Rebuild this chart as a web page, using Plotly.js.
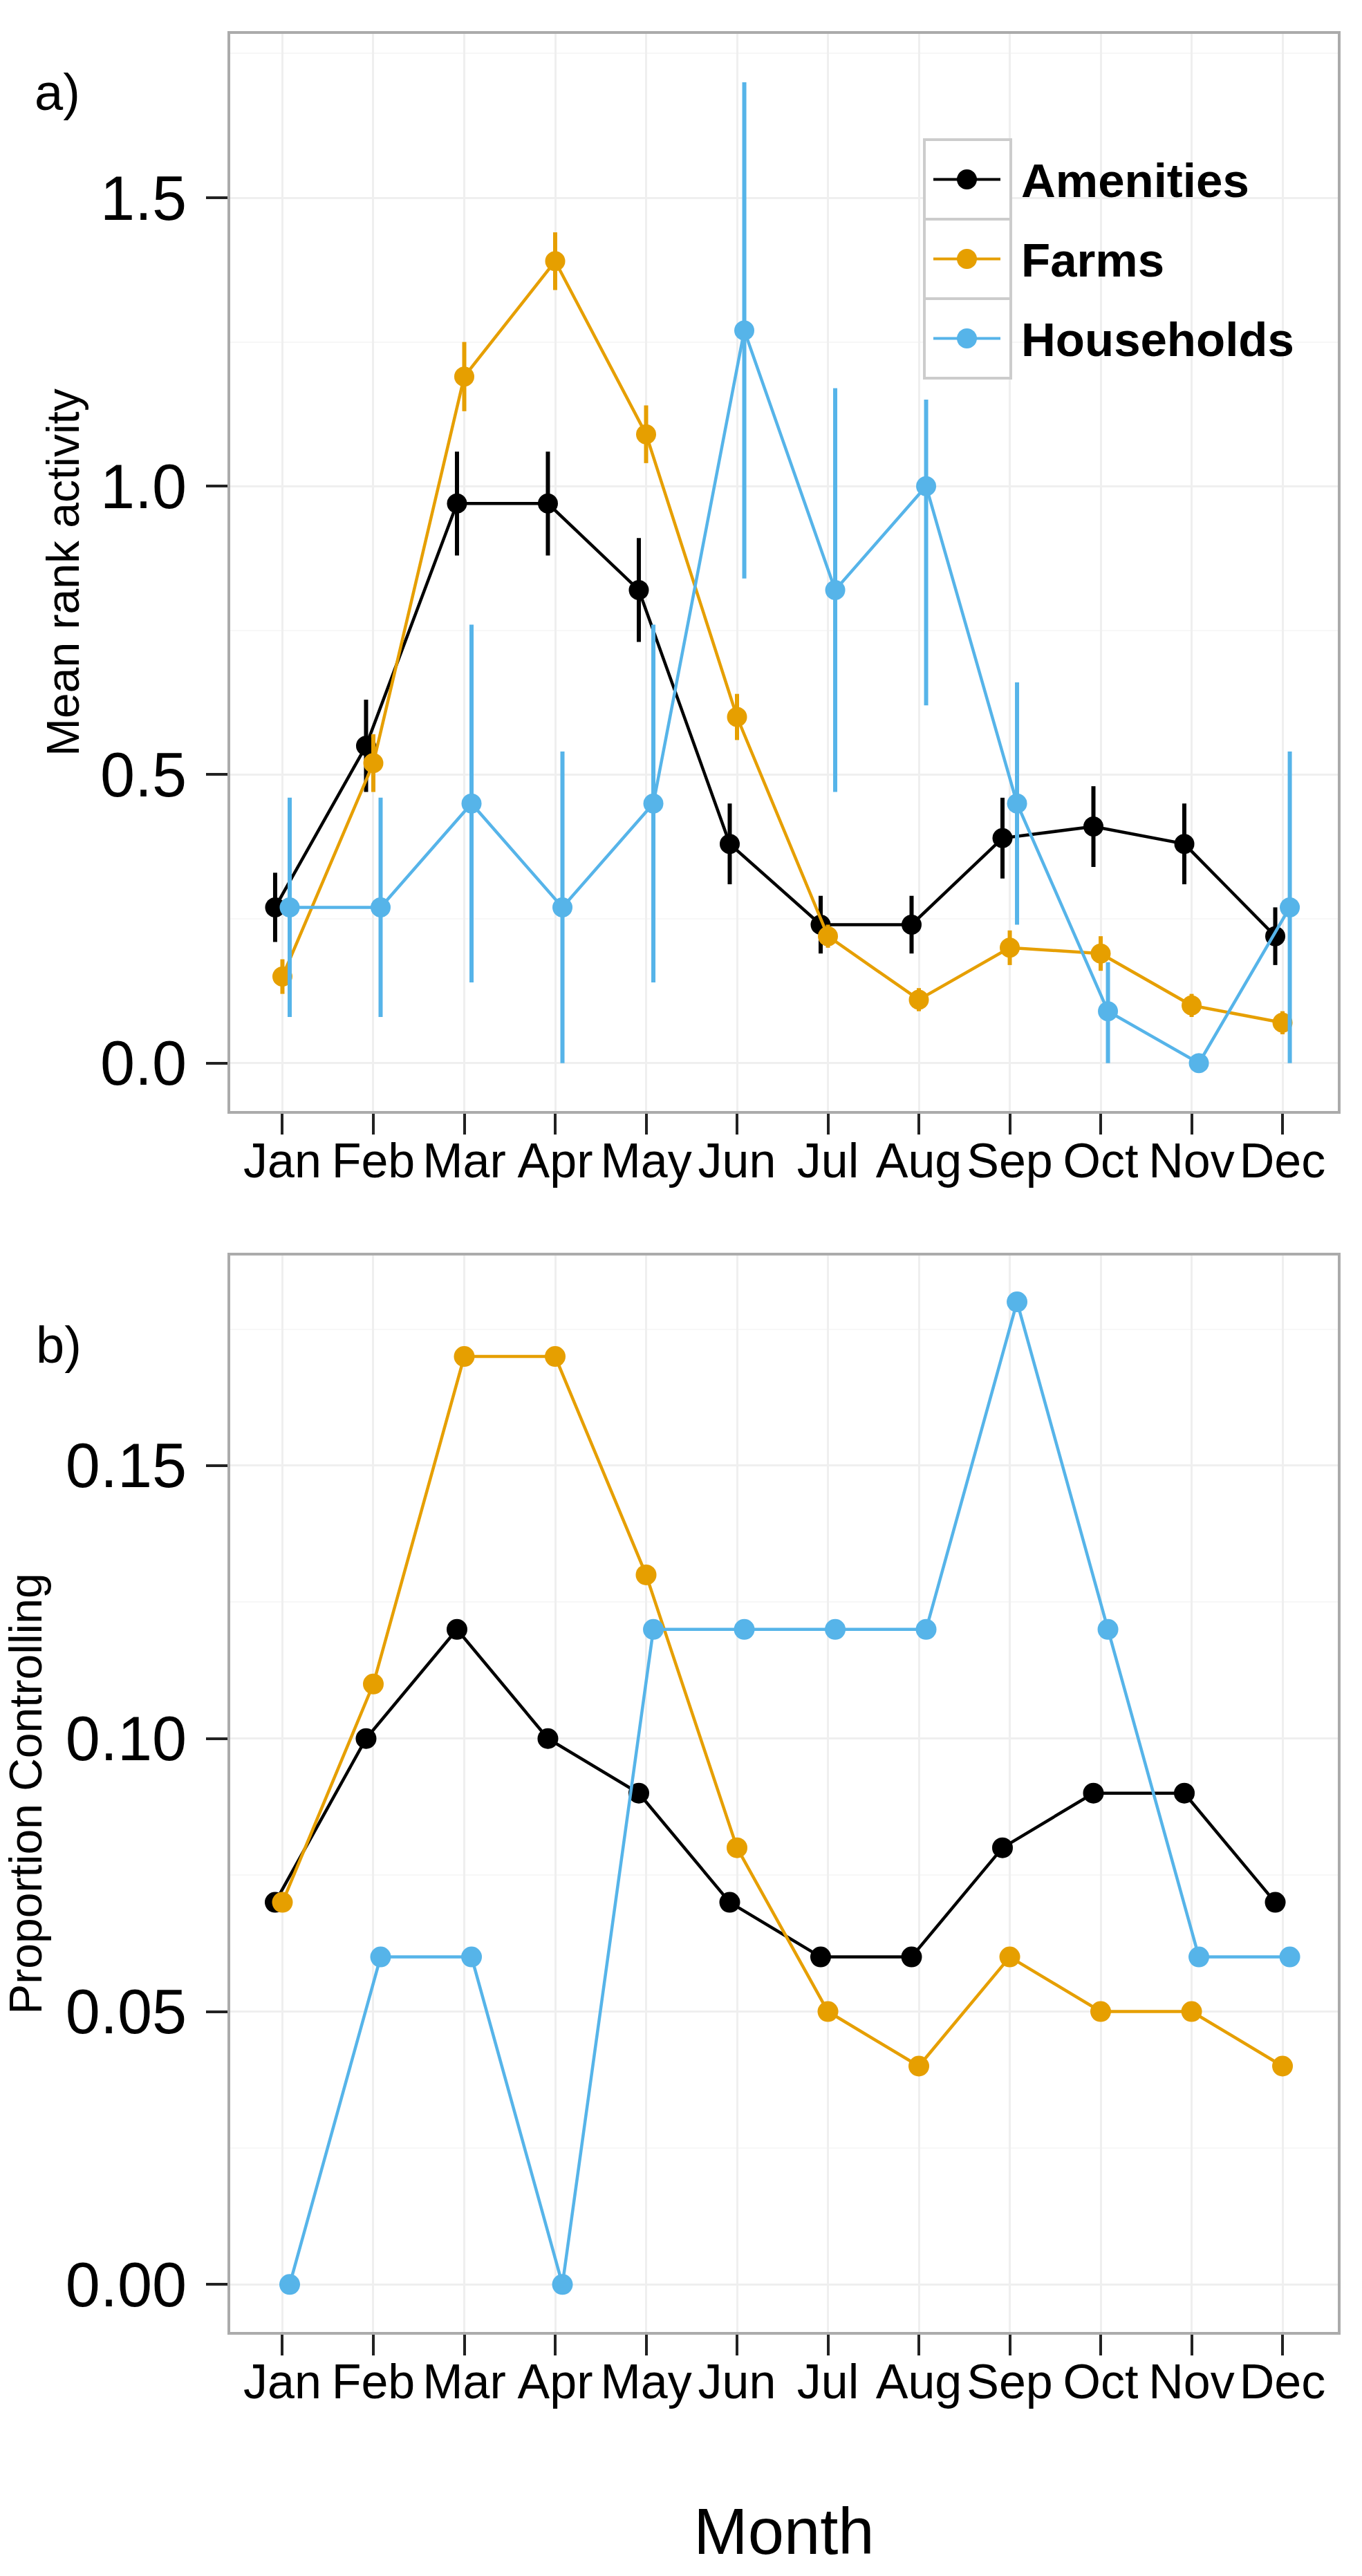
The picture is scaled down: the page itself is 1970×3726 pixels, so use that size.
<!DOCTYPE html>
<html>
<head>
<meta charset="utf-8">
<script src="https://cdn.plot.ly/plotly-3.0.1.min.js"></script>
<style>
  html, body { margin: 0; padding: 0; background: #ffffff; }
  #chart { width: 1970px; height: 3726px; }
</style>
</head>
<body>
<div id="chart"></div>
<script>
// values
const months = ["Jan", "Feb", "Mar", "Apr", "May", "Jun", "Jul", "Aug", "Sep", "Oct", "Nov", "Dec"];
const groups = ["Amenities", "Farms", "Households"];
const groupColors = ["#000000", "#E69F00", "#56B4E9"];

// a) mean rank activity with error bars
const activityAmenities = [0.27, 0.55, 0.97, 0.97, 0.82, 0.38, 0.24, 0.24, 0.39, 0.41, 0.38, 0.22];
const activityAmenitiesErr = [0.06, 0.08, 0.09, 0.09, 0.09, 0.07, 0.05, 0.05, 0.07, 0.07, 0.07, 0.05];
const activityFarms = [0.15, 0.52, 1.19, 1.39, 1.09, 0.60, 0.22, 0.11, 0.20, 0.19, 0.10, 0.07];
const activityFarmsErr = [0.03, 0.05, 0.06, 0.05, 0.05, 0.04, 0.02, 0.02, 0.03, 0.03, 0.02, 0.02];
const activityHouseholds = [0.27, 0.27, 0.45, 0.27, 0.45, 1.27, 0.82, 1.00, 0.45, 0.09, 0.00, 0.27];
const activityHouseholdsErrUp = [0.19, 0.19, 0.31, 0.27, 0.31, 0.43, 0.35, 0.15, 0.21, 0.085, 0.00, 0.27];
const activityHouseholdsErrDown = [0.19, 0.19, 0.31, 0.27, 0.31, 0.43, 0.35, 0.38, 0.21, 0.09, 0.00, 0.27];

// b) proportion controlling
const controlAmenities = [0.07, 0.10, 0.12, 0.10, 0.09, 0.07, 0.06, 0.06, 0.08, 0.09, 0.09, 0.07];
const controlFarms = [0.07, 0.11, 0.17, 0.17, 0.13, 0.08, 0.05, 0.04, 0.06, 0.05, 0.05, 0.04];
const controlHouseholds = [0.00, 0.06, 0.06, 0.00, 0.12, 0.12, 0.12, 0.12, 0.18, 0.12, 0.06, 0.06];

const activity = [activityAmenities, activityFarms, activityHouseholds];
const activityUp = [activityAmenitiesErr, activityFarmsErr, activityHouseholdsErrUp];
const activityDown = [activityAmenitiesErr, activityFarmsErr, activityHouseholdsErrDown];
const control = [controlAmenities, controlFarms, controlHouseholds];

// position_dodge style offset per group
const dodge = [-0.08, 0, 0.08];

const W = 1970, H = 3726;
const margin = { l: 333, r: 35, t: 49, b: 353 };
const plotW = W - margin.l - margin.r;
const plotH = H - margin.t - margin.b;
// page pixel -> paper coords
const px = x => (x - margin.l) / plotW;
const py = y => (H - margin.b - y) / plotH;

const fontFamily = '"Liberation Sans", Arial, Helvetica, sans-serif';
const monthIdx = months.map((m, i) => i);

const traces = [];
groups.forEach((g, k) => {
    traces.push({
        x: monthIdx.map(i => i + dodge[k]),
        y: activity[k],
        name: g,
        type: "scatter",
        mode: "lines+markers",
        xaxis: "x",
        yaxis: "y",
        line: { color: groupColors[k], width: 4.5 },
        marker: { color: groupColors[k], size: 29 },
        error_y: {
            type: "data",
            symmetric: false,
            array: activityUp[k],
            arrayminus: activityDown[k],
            color: groupColors[k],
            thickness: 6,
            width: 0
        },
        showlegend: false
    });
});
groups.forEach((g, k) => {
    traces.push({
        x: monthIdx.map(i => i + dodge[k]),
        y: control[k],
        name: g,
        type: "scatter",
        mode: "lines+markers",
        xaxis: "x2",
        yaxis: "y2",
        line: { color: groupColors[k], width: 4.5 },
        marker: { color: groupColors[k], size: 30 },
        showlegend: false
    });
});

const xAxisBase = {
    range: [-0.574, 11.608],
    tickmode: "array",
    tickvals: monthIdx,
    ticktext: months,
    ticks: "outside",
    ticklen: 30,
    tickwidth: 4,
    tickcolor: "#222222",
    ticklabelstandoff: -22,
    tickfont: { family: fontFamily, size: 70, color: "#000000" },
    showgrid: true,
    gridcolor: "#efefef",
    gridwidth: 3,
    zeroline: false,
    showline: true,
    mirror: true,
    linecolor: "#ababab",
    linewidth: 4
};

const yAxisBase = {
    ticks: "outside",
    ticklen: 31,
    tickwidth: 4,
    tickcolor: "#222222",
    ticklabelstandoff: 10,
    tickfont: { family: fontFamily, size: 90, color: "#000000" },
    showgrid: true,
    gridcolor: "#efefef",
    gridwidth: 3,
    zeroline: false,
    showline: true,
    mirror: true,
    linecolor: "#ababab",
    linewidth: 4
};

const shapes = [];
const annotations = [];

// legend of panel a, ggplot style key boxes
const legendTop = 202, keyH = 115;
shapes.push({
    type: "rect", xref: "paper", yref: "paper", layer: "between",
    x0: px(1309), x1: px(1932), y0: py(144), y1: py(577),
    fillcolor: "#ffffff", line: { width: 0 }
});
groups.forEach((g, k) => {
    const top = legendTop + k * keyH;
    const mid = top + keyH / 2;
    shapes.push({
        type: "rect", xref: "paper", yref: "paper", layer: "above",
        x0: px(1337), x1: px(1462), y0: py(top), y1: py(top + keyH),
        fillcolor: "#ffffff", line: { color: "#cccccc", width: 4 }
    });
    shapes.push({
        type: "line", xref: "paper", yref: "paper", layer: "above",
        x0: px(1350), x1: px(1447), y0: py(mid), y1: py(mid),
        line: { color: groupColors[k], width: 4 }
    });
    shapes.push({
        type: "circle", xref: "paper", yref: "paper", layer: "above",
        x0: px(1384), x1: px(1413), y0: py(mid - 14.5), y1: py(mid + 14.5),
        fillcolor: groupColors[k], line: { width: 0 }
    });
    annotations.push({
        text: "<b>" + g + "</b>", xref: "paper", yref: "paper",
        x: px(1475), y: py(mid + 2), xanchor: "left", yanchor: "middle",
        showarrow: false,
        font: { family: fontFamily, size: 69, color: "#000000" }
    });
});

// panel letters
annotations.push({
    text: "a)", xref: "paper", yref: "paper", x: px(48), y: py(134),
    xanchor: "left", yanchor: "middle", showarrow: false,
    font: { family: fontFamily, size: 74, color: "#000000" }
});
annotations.push({
    text: "b)", xref: "paper", yref: "paper", x: px(50), y: py(1945),
    xanchor: "left", yanchor: "middle", showarrow: false,
    font: { family: fontFamily, size: 74, color: "#000000" }
});

const layout = {
    width: W,
    height: H,
    margin: margin,
    paper_bgcolor: "#ffffff",
    plot_bgcolor: "#ffffff",
    font: { family: fontFamily, color: "#000000" },
    showlegend: false,
    xaxis: Object.assign({}, xAxisBase, { anchor: "y", domain: [0, 1] }),
    yaxis: Object.assign({}, yAxisBase, {
        anchor: "x",
        domain: [py(1607), py(49)],
        range: [-0.083, 1.784],
        tick0: 0,
        dtick: 0.5,
        tickformat: ".1f",
        minor: { dtick: 0.25, tick0: 0, showgrid: true, gridcolor: "#f7f7f7", gridwidth: 2 },
        title: { text: "Mean rank activity", standoff: 10, font: { family: fontFamily, size: 66, color: "#000000" } }
    }),
    xaxis2: Object.assign({}, xAxisBase, {
        anchor: "y2",
        domain: [0, 1],
        title: { text: "Month", standoff: 146, font: { family: fontFamily, size: 94, color: "#000000" } }
    }),
    yaxis2: Object.assign({}, yAxisBase, {
        anchor: "x2",
        domain: [py(3373), py(1816)],
        range: [-0.0087, 0.1885],
        tick0: 0,
        dtick: 0.05,
        tickformat: ".2f",
        minor: { dtick: 0.025, tick0: 0, showgrid: true, gridcolor: "#f7f7f7", gridwidth: 2 },
        title: { text: "Proportion Controlling", standoff: 16, font: { family: fontFamily, size: 66, color: "#000000" } }
    }),
    shapes: shapes,
    annotations: annotations
};

Plotly.newPlot("chart", traces, layout, { displayModeBar: false, staticPlot: true });
</script>
</body>
</html>
